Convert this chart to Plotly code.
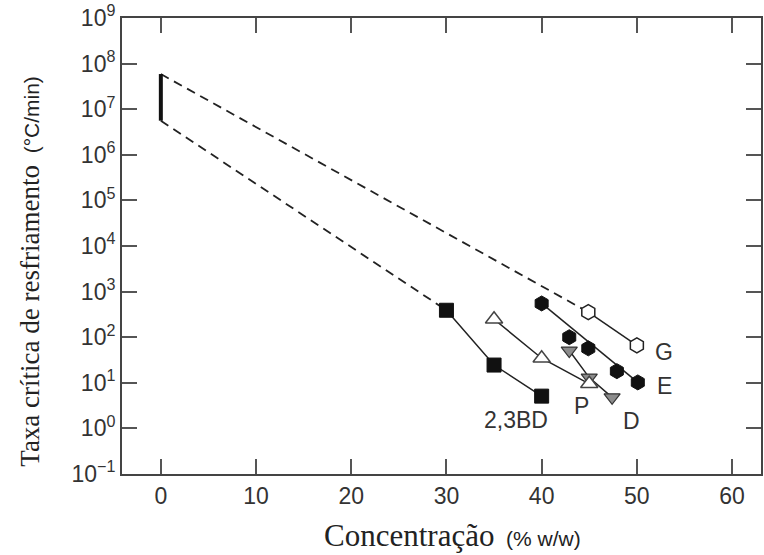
import math
import plotly.graph_objects as go

# Data (concentration % w/w, critical cooling rate °C/min)
bd_x = [30, 35, 40]
bd_y = [390, 24.5, 5.1]

p_x = [35, 40, 45]
p_y = [247, 34.6, 9.5]

d_x = [42.9, 45, 47.4]
d_y = [51, 13, 4.8]

e_x = [40, 42.9, 44.9, 47.9, 50.1]
e_y = [550, 100, 57, 18, 10.2]

g_x = [44.9, 50]
g_y = [355, 66]

water_x = [0, 0]
water_y = [5.6e6, 5.9e7]

labels = ["G", "E", "P", "D", "2,3BD"]
label_x = [52.8, 52.9, 44.2, 49.4, 37.3]
label_y = [47, 8.5, 3.1, 1.45, 1.5]

yticks = [10.0 ** k for k in range(-1, 10)]
ytext = ["10<sup>%s</sup>" % (str(k) if k >= 0 else "−" + str(-k)) for k in range(-1, 10)]
xticks = [0, 10, 20, 30, 40, 50, 60]

SANS = "Liberation Sans, Arial"
SERIF = "Liberation Serif, Times New Roman"

fig = go.Figure()

# dashed extrapolations
fig.add_trace(go.Scatter(x=[water_x[1], g_x[0]], y=[water_y[1], g_y[0]], mode="lines",
                         line=dict(color="#222", width=1.8, dash="9px,6px")))
fig.add_trace(go.Scatter(x=[water_x[0], bd_x[0]], y=[water_y[0], bd_y[0]], mode="lines",
                         line=dict(color="#222", width=1.8, dash="9px,6px")))
# water bar
fig.add_trace(go.Scatter(x=water_x, y=water_y, mode="lines", line=dict(color="#111", width=4)))

# series lines
line = dict(color="#222", width=1.5)
fig.add_trace(go.Scatter(x=bd_x, y=bd_y, mode="lines", line=line))
fig.add_trace(go.Scatter(x=p_x, y=p_y, mode="lines", line=line))
fig.add_trace(go.Scatter(x=d_x, y=d_y, mode="lines", line=line))
fig.add_trace(go.Scatter(x=[e_x[0], e_x[-1]], y=[e_y[0], e_y[-1]], mode="lines", line=line))
fig.add_trace(go.Scatter(x=g_x, y=g_y, mode="lines", line=line))

# markers
fig.add_trace(go.Scatter(x=bd_x, y=bd_y, mode="markers",
                         marker=dict(symbol="square", size=14, color="#111", line=dict(color="#111", width=1))))
fig.add_trace(go.Scatter(x=e_x, y=e_y, mode="markers",
                         marker=dict(symbol="hexagon", size=15, color="#111", line=dict(color="#111", width=1))))
fig.add_trace(go.Scatter(x=g_x, y=g_y, mode="markers",
                         marker=dict(symbol="hexagon", size=15, color="white", line=dict(color="#222", width=1.5))))
fig.add_trace(go.Scatter(x=d_x, y=d_y, mode="markers",
                         marker=dict(symbol="triangle-down", size=14, color="#8c8c8c", line=dict(color="#333", width=1.2))))
fig.add_trace(go.Scatter(x=p_x, y=p_y, mode="markers",
                         marker=dict(symbol="triangle-up", size=15, color="white", line=dict(color="#444", width=1.5))))

for t, lx, ly in zip(labels, label_x, label_y):
    fig.add_annotation(x=lx, y=math.log10(ly), yref="y", xref="x", text=t, showarrow=False,
                       font=dict(family=SANS, size=23, color="#333"))

# axis titles
fig.add_annotation(xref="paper", yref="paper", x=(454 - 122) / 641, y=(474 - 536) / 457,
                   xanchor="center", yanchor="middle", showarrow=False,
                   text="<span style='font-family:%s;font-size:31px'>Concentração</span>&nbsp; (%% w/w)" % SERIF,
                   font=dict(family=SANS, size=21, color="#222"))
fig.add_annotation(xref="paper", yref="paper", x=(30 - 122) / 641, y=(474 - 271) / 457,
                   xanchor="center", yanchor="middle", showarrow=False, textangle=-90,
                   text="<span style='font-family:%s;font-size:27px'>Taxa crítica de resfriamento</span>&nbsp; (°C/min)" % SERIF,
                   font=dict(family=SANS, size=21, color="#222"))

fig.update_layout(
    width=764, height=555,
    margin=dict(l=122, r=1, t=17, b=81),
    paper_bgcolor="white", plot_bgcolor="white",
    showlegend=False,
)
fig.update_xaxes(range=[-4.08, 63.04], tickvals=xticks, ticks="inside", ticklen=15, tickwidth=2,
                 tickcolor="#555", showline=True, linecolor="#444", linewidth=2, mirror="ticks",
                 showgrid=False, zeroline=False,
                 tickfont=dict(family=SANS, size=23, color="#333"))
fig.update_yaxes(type="log", range=[-1, 9], tickvals=yticks, ticktext=ytext, ticks="inside", ticklen=15,
                 tickwidth=2, tickcolor="#555", showline=True, linecolor="#444", linewidth=2, mirror="ticks",
                 showgrid=False, zeroline=False,
                 tickfont=dict(family=SANS, size=23, color="#333"))

fig.write_html("out.html")
